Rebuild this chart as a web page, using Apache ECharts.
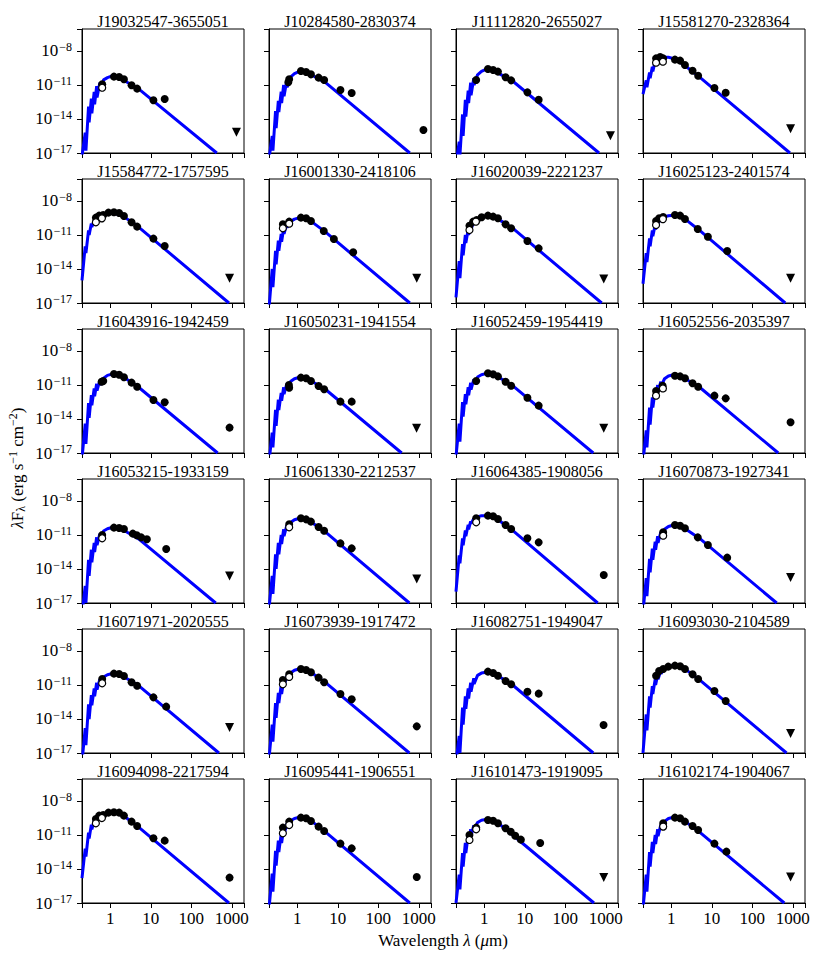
<!DOCTYPE html>
<html>
<head>
<meta charset="utf-8">
<title>SED grid</title>
<script src="https://cdn.jsdelivr.net/npm/echarts@6/dist/echarts.min.js"></script>
<style>
  html, body { margin: 0; padding: 0; background: #fff; }
  #main { width: 830px; height: 962px; }
</style>
</head>
<body>
<div id="main"></div>
<script>
var FONT = '"Liberation Serif", "Times New Roman", Times, serif';

// source names, row by row
var names = [
    'J19032547-3655051', 'J10284580-2830374', 'J11112820-2655027', 'J15581270-2328364',
    'J15584772-1757595', 'J16001330-2418106', 'J16020039-2221237', 'J16025123-2401574',
    'J16043916-1942459', 'J16050231-1941554', 'J16052459-1954419', 'J16052556-2035397',
    'J16053215-1933159', 'J16061330-2212537', 'J16064385-1908056', 'J16070873-1927341',
    'J16071971-2020555', 'J16073939-1917472', 'J16082751-1949047', 'J16093030-2104589',
    'J16094098-2217594', 'J16095441-1906551', 'J16101473-1919095', 'J16102174-1904067'
];

// model photosphere: wavelength grid (um) and log10(lambda F_lambda) per source
var modelWave = [0.20, 0.24, 0.25, 0.29, 0.30, 0.34, 0.35, 0.40, 0.41, 0.46, 0.47, 0.55, 0.56, 0.68, 0.85, 1.2, 2.2, 5.0];
var modelLogFlux = [
    [-17.3, -15.2, -16.8, -12.9, -14.3, -12.2, -13.5, -11.6, -12.7, -11.1, -12.1, -10.8, -11.5, -10.55, -10.35, -10.15, -10.6, -11.35],
    [-17.5, -15.5, -16.8, -13.3, -14.8, -12.4, -13.4, -11.6, -12.6, -11.0, -12.0, -10.6, -11.2, -10.3, -10.0, -9.75, -10.1, -10.8],
    [-18.0, -16.0, -17.2, -13.6, -15.5, -12.3, -13.8, -11.5, -12.6, -10.8, -11.9, -10.4, -11.0, -10.1, -9.8, -9.55, -9.95, -10.65],
    [-11.8, -10.6, -11.2, -9.9, -10.4, -9.4, -9.8, -8.9, -9.2, -8.7, -8.9, -8.55, -8.65, -8.55, -8.55, -8.7, -9.3, -10.3],
    [-15.0, -12.0, -12.6, -10.6, -11.0, -10.0, -10.3, -9.7, -9.9, -9.5, -9.7, -9.35, -9.45, -9.25, -9.1, -9.05, -9.4, -10.3],
    [-17.5, -14.0, -15.6, -12.4, -13.6, -11.5, -12.4, -10.9, -11.6, -10.4, -10.9, -10.0, -10.35, -9.8, -9.6, -9.45, -9.8, -10.75],
    [-16.5, -13.3, -14.8, -11.8, -12.8, -11.0, -11.7, -10.5, -11.0, -10.1, -10.5, -9.8, -10.05, -9.6, -9.4, -9.3, -9.6, -10.4],
    [-15.3, -12.6, -13.4, -11.3, -12.0, -10.6, -11.1, -10.1, -10.5, -9.8, -10.0, -9.55, -9.7, -9.4, -9.3, -9.25, -9.6, -10.6],
    [-17.5, -14.4, -16.2, -12.6, -13.9, -11.9, -12.8, -11.3, -12.0, -10.9, -11.5, -10.6, -11.0, -10.4, -10.15, -10.0, -10.35, -11.2],
    [-17.8, -15.2, -16.5, -13.2, -14.6, -12.3, -13.2, -11.7, -12.4, -11.2, -11.8, -10.9, -11.3, -10.7, -10.45, -10.3, -10.65, -11.4],
    [-17.3, -14.4, -16.0, -12.5, -13.8, -11.8, -12.7, -11.2, -11.9, -10.8, -11.4, -10.5, -10.9, -10.3, -10.1, -9.95, -10.3, -11.05],
    [-17.8, -15.0, -16.5, -13.0, -14.5, -12.1, -13.0, -11.5, -12.2, -11.0, -11.6, -10.7, -11.1, -10.45, -10.2, -10.08, -10.45, -11.2],
    [-18.0, -15.5, -17.0, -13.2, -14.6, -12.3, -13.4, -11.7, -12.5, -11.2, -11.9, -10.9, -11.3, -10.65, -10.45, -10.3, -10.6, -11.35],
    [-17.5, -14.6, -16.2, -12.7, -14.0, -11.7, -12.7, -11.0, -11.8, -10.5, -11.1, -10.15, -10.5, -9.9, -9.65, -9.5, -9.85, -10.75],
    [-16.0, -12.8, -13.5, -11.3, -11.9, -10.6, -11.1, -10.1, -10.5, -9.8, -10.0, -9.55, -9.7, -9.4, -9.3, -9.3, -9.65, -10.6],
    [-17.8, -14.8, -16.4, -13.1, -14.3, -12.2, -13.2, -11.6, -12.3, -11.1, -11.7, -10.75, -11.1, -10.5, -10.25, -10.1, -10.45, -11.3],
    [-17.8, -14.8, -16.3, -12.7, -14.0, -11.9, -12.8, -11.3, -12.0, -10.8, -11.4, -10.5, -10.9, -10.3, -10.1, -9.95, -10.3, -11.05],
    [-17.5, -14.5, -16.0, -12.6, -13.9, -11.7, -12.6, -11.0, -11.8, -10.6, -11.1, -10.2, -10.55, -9.95, -9.7, -9.55, -9.9, -10.8],
    [-17.8, -15.5, -17.0, -13.0, -14.5, -12.0, -13.1, -11.3, -12.2, -10.8, -11.6, -10.4, -10.9, -10.15, -9.95, -9.85, -10.2, -11.0],
    [-17.0, -13.6, -15.0, -12.0, -13.0, -11.1, -11.8, -10.5, -11.0, -10.1, -10.5, -9.75, -10.0, -9.5, -9.35, -9.25, -9.6, -10.55],
    [-14.8, -12.2, -12.9, -10.8, -11.3, -10.1, -10.5, -9.7, -10.0, -9.5, -9.7, -9.3, -9.45, -9.2, -9.05, -9.0, -9.35, -10.3],
    [-17.5, -14.4, -16.0, -12.4, -13.7, -11.5, -12.5, -10.9, -11.7, -10.4, -11.0, -10.0, -10.4, -9.75, -9.55, -9.4, -9.75, -10.75],
    [-17.0, -14.5, -15.8, -12.6, -13.8, -11.7, -12.6, -11.0, -11.7, -10.5, -11.1, -10.15, -10.5, -9.9, -9.7, -9.6, -9.95, -11.0],
    [-17.5, -14.5, -16.0, -12.5, -13.8, -11.6, -12.6, -11.0, -11.8, -10.5, -11.1, -10.1, -10.45, -9.8, -9.55, -9.4, -9.8, -10.75]
];
// wavelength (um) where the model tail drops to 1e-17
var modelEnd = [425, 600, 680, 850, 850, 600, 790, 650, 447, 377, 490, 437,
                400, 585, 630, 400, 480, 585, 490, 700, 850, 600, 510, 617];

// photometry: [wavelength um, log10 flux]
var filledPts = [
    [[0.63, -10.94], [1.23, -10.26], [1.65, -10.29], [2.17, -10.50], [3.35, -11.03], [4.6, -11.32], [11.6, -12.35], [22, -12.24]],
    [[0.6, -10.76], [0.63, -10.5], [1.23, -9.76], [1.65, -9.85], [2.17, -10.06], [3.35, -10.35], [4.6, -10.56], [11.6, -11.44], [22, -11.7]],
    [[0.63, -10.56], [1.23, -9.59], [1.65, -9.68], [2.17, -9.82], [3.35, -10.32], [4.6, -10.59], [11.6, -11.65], [22, -12.3]],
    [[0.42, -8.65], [0.53, -8.53], [0.63, -8.65], [1.23, -8.76], [1.65, -8.85], [2.17, -9.24], [3.35, -9.74], [4.6, -10.18], [11.6, -11.26], [22, -11.68]],
    [[0.44, -9.47], [0.53, -9.29], [0.67, -9.24], [0.9, -9.03], [1.23, -9.0], [1.65, -9.06], [2.17, -9.32], [3.35, -9.88], [4.6, -10.26], [11.6, -11.32], [22, -11.97]],
    [[0.44, -10.06], [0.63, -9.82], [1.23, -9.47], [1.65, -9.53], [2.17, -9.76], [4.5, -10.65], [8.0, -11.35], [24, -12.53]],
    [[0.43, -10.18], [0.53, -9.82], [0.65, -9.68], [0.86, -9.44], [1.23, -9.29], [1.65, -9.38], [2.17, -9.53], [3.35, -10.06], [4.6, -10.41], [11.6, -11.53], [22, -12.18]],
    [[0.42, -9.76], [0.5, -9.53], [0.63, -9.41], [1.23, -9.24], [1.65, -9.29], [2.17, -9.59], [4.5, -10.47], [8.0, -11.15], [24, -12.41]],
    [[0.61, -10.71], [0.67, -10.65], [1.23, -10.03], [1.65, -10.09], [2.17, -10.32], [3.35, -10.79], [4.6, -11.15], [11.6, -12.32], [22, -12.53]],
    [[0.62, -11.0], [0.63, -11.24], [1.23, -10.35], [1.65, -10.41], [2.17, -10.65], [3.35, -11.09], [4.6, -11.38], [11.6, -12.47], [22, -12.47]],
    [[0.63, -10.65], [1.23, -9.97], [1.65, -10.06], [2.17, -10.24], [3.35, -10.71], [4.6, -11.06], [11.6, -12.12], [22, -12.82]],
    [[0.42, -11.53], [0.61, -11.06], [1.23, -10.18], [1.65, -10.24], [2.17, -10.41], [3.35, -10.85], [4.6, -11.15], [11.6, -11.94], [22, -12.18]],
    [[0.63, -11.0], [1.23, -10.35], [1.65, -10.38], [2.17, -10.47], [3.6, -10.88], [4.5, -11.03], [5.8, -11.21], [8.0, -11.38], [24, -12.24]],
    [[0.63, -10.06], [1.23, -9.53], [1.65, -9.62], [2.17, -9.82], [3.35, -10.29], [4.6, -10.62], [11.6, -11.74], [22, -12.18]],
    [[0.63, -9.53], [1.23, -9.29], [1.65, -9.35], [2.17, -9.59], [3.35, -10.12], [4.6, -10.47], [11.6, -11.29], [22, -11.65]],
    [[0.63, -10.76], [1.23, -10.12], [1.65, -10.18], [2.17, -10.41], [4.5, -11.21], [8.0, -11.88], [24, -13.0]],
    [[0.63, -10.47], [1.23, -10.0], [1.65, -10.03], [2.17, -10.21], [3.35, -10.76], [4.6, -11.06], [11.6, -12.09], [24, -12.91]],
    [[0.44, -10.56], [0.63, -10.06], [1.23, -9.59], [1.65, -9.68], [2.17, -9.88], [3.35, -10.35], [4.6, -10.76], [11.6, -11.79], [22, -12.26]],
    [[1.23, -9.82], [1.65, -9.94], [2.17, -10.18], [3.35, -10.65], [4.6, -10.94], [11.6, -11.59], [22, -11.76]],
    [[0.42, -10.18], [0.5, -9.76], [0.63, -9.59], [0.84, -9.38], [1.23, -9.29], [1.65, -9.35], [2.17, -9.59], [3.35, -10.06], [4.6, -10.47], [11.6, -11.53], [22, -12.41]],
    [[0.44, -9.59], [0.53, -9.29], [0.67, -9.24], [0.9, -9.03], [1.23, -9.0], [1.65, -9.03], [2.17, -9.29], [3.35, -9.82], [4.6, -10.21], [11.6, -11.29], [22, -11.5]],
    [[0.44, -10.35], [0.63, -9.82], [1.23, -9.47], [1.65, -9.53], [2.17, -9.76], [3.35, -10.26], [4.6, -10.65], [11.6, -11.76], [22, -12.18]],
    [[0.43, -11.0], [0.63, -10.35], [1.23, -9.68], [1.65, -9.74], [2.17, -9.97], [3.35, -10.41], [4.5, -10.71], [5.8, -11.06], [8.0, -11.41], [24, -11.71]],
    [[0.63, -9.97], [1.23, -9.47], [1.65, -9.53], [2.17, -9.82], [3.35, -10.21], [4.6, -10.56], [11.6, -11.76], [23, -12.47]]
];
var openPts = [
    [[0.63, -11.24]],
    [],
    [],
    [[0.42, -9.03], [0.62, -8.94]],
    [[0.44, -9.88], [0.62, -9.53]],
    [[0.44, -10.41], [0.63, -10.0]],
    [[0.43, -10.56], [0.62, -9.82]],
    [[0.42, -10.12], [0.62, -9.6]],
    [],
    [],
    [],
    [[0.42, -11.94], [0.62, -11.3]],
    [[0.63, -11.29]],
    [[0.63, -10.32]],
    [[0.63, -9.88]],
    [[0.63, -11.06]],
    [[0.63, -10.85]],
    [[0.44, -10.94], [0.63, -10.29]],
    [],
    [],
    [[0.44, -9.97], [0.62, -9.5]],
    [[0.44, -10.85], [0.63, -10.12]],
    [[0.43, -11.44], [0.63, -10.5]],
    [[0.63, -10.26]]
];
// (sub)mm detections and upper limits
var mmDetect = [
    null, [1300, -14.97], null, null,
    null, null, null, null,
    [880, -14.76], null, null, [880, -14.29],
    null, null, [890, -14.53], null,
    null, [890, -14.65], [880, -14.53], null,
    [880, -14.76], [890, -14.71], null, null
];
var mmLimit = [
    [1300, -15.18], null, [1300, -15.47], [880, -14.85],
    [880, -14.82], [890, -14.82], [890, -14.88], [880, -14.82],
    null, [880, -14.82], [890, -14.82], null,
    [880, -14.62], [890, -14.88], null, [880, -14.76],
    [880, -14.74], null, null, [880, -15.29],
    null, null, [890, -14.76], [880, -14.71]
];

var xTickExp = [0, 1, 2, 3];
var yTickExp = [-17, -14, -11, -8];

var COLS = 4, ROWS = 6;
var LEFT0 = 82, TOP0 = 29, DX = 187, DY = 150, PW = 162, PH = 124;

function isExp(v, list) {
    var e = Math.round(v);
    return Math.abs(v - e) < 1e-6 && list.indexOf(e) >= 0 ? e : null;
}
function pairs(list) {
    return list.map(function (p) { return [p[0], Math.pow(10, p[1])]; });
}

function buildOption() {
    var grids = [], xAxes = [], yAxes = [], series = [], graphics = [];

    for (var i = 0; i < names.length; i++) {
        var col = i % COLS, row = Math.floor(i / COLS);
        var gx = LEFT0 + col * DX, gy = TOP0 + row * DY;

        grids.push({
            left: gx, top: gy, width: PW, height: PH,
            show: true, borderColor: '#000', borderWidth: 1,
            backgroundColor: 'rgba(0,0,0,0)', containLabel: false
        });

        xAxes.push({
            type: 'log', gridIndex: i, min: 0.2, max: 2000,
            axisLine: {show: true, onZero: false, lineStyle: {color: '#000', width: 1}},
            axisTick: {show: true, inside: false, length: 5, lineStyle: {color: '#000', width: 1}},
            splitLine: {show: false},
            axisLabel: {
                show: row === ROWS - 1, color: '#000', fontSize: 17, fontFamily: FONT, margin: 7,
                formatter: function (v) {
                    var e = isExp(Math.log10(v), xTickExp);
                    return e === null ? '' : String(Math.pow(10, e));
                }
            }
        });
        yAxes.push({
            type: 'log', gridIndex: i, min: 1e-17, max: 8.7e-7, interval: 3,
            axisLine: {show: true, onZero: false, lineStyle: {color: '#000', width: 1}},
            axisTick: {show: true, inside: false, length: 5, lineStyle: {color: '#000', width: 1}},
            splitLine: {show: false},
            axisLabel: {
                show: col === 0, color: '#000', fontSize: 17, fontFamily: FONT, margin: 10,
                formatter: function (v) {
                    var e = isExp(Math.log10(v), yTickExp);
                    return e === null ? '' : '10{s|\u2212' + (-e) + '}';
                },
                rich: {s: {fontSize: 12, fontFamily: FONT, color: '#000', padding: [0, 0, 8, 1]}}
            }
        });

        var model = pairs(modelWave.map(function (w, k) { return [w, modelLogFlux[i][k]]; }));
        model.push([modelEnd[i], 1e-17]);

        series.push({
            type: 'line', xAxisIndex: i, yAxisIndex: i, data: model,
            symbol: 'none', showSymbol: false, clip: true, silent: true,
            lineStyle: {color: '#0000ff', width: 3}, z: 2
        });
        series.push({
            type: 'scatter', xAxisIndex: i, yAxisIndex: i, data: pairs(filledPts[i]),
            symbol: 'circle', symbolSize: 8, itemStyle: {color: '#000', opacity: 1}, z: 3
        });
        if (openPts[i].length) {
            series.push({
                type: 'scatter', xAxisIndex: i, yAxisIndex: i, data: pairs(openPts[i]),
                symbol: 'circle', symbolSize: 7, z: 4,
                itemStyle: {color: '#fff', borderColor: '#000', borderWidth: 1.2, opacity: 1}
            });
        }
        if (mmDetect[i]) {
            series.push({
                type: 'scatter', xAxisIndex: i, yAxisIndex: i, data: pairs([mmDetect[i]]),
                symbol: 'circle', symbolSize: 8, itemStyle: {color: '#000', opacity: 1}, z: 3
            });
        }
        if (mmLimit[i]) {
            series.push({
                type: 'scatter', xAxisIndex: i, yAxisIndex: i, data: pairs([mmLimit[i]]),
                symbol: 'triangle', symbolRotate: 180, symbolSize: 9,
                itemStyle: {color: '#000', opacity: 1}, z: 3
            });
        }

        graphics.push({
            type: 'text', x: gx + PW / 2, y: gy - 8,
            style: {
                text: names[i], fill: '#000', fontSize: 16, fontFamily: FONT,
                align: 'center', verticalAlign: 'middle'
            }
        });
    }

    // shared axis titles
    graphics.push({
        type: 'text', x: 443, y: 940,
        style: {
            text: 'Wavelength {it|\u03bb} ({it|\u03bc}m)', fill: '#000', fontSize: 17, fontFamily: FONT,
            align: 'center', verticalAlign: 'middle',
            rich: {it: {fontStyle: 'italic', fontSize: 17, fontFamily: FONT, fill: '#000'}}
        }
    });
    graphics.push({
        type: 'text', x: 17, y: 468, rotation: Math.PI / 2,
        style: {
            text: '{it|\u03bb}F{sub|\u03bb} (erg s{sup|\u22121} cm{sup|\u22122})',
            fill: '#000', fontSize: 17, fontFamily: FONT,
            align: 'center', verticalAlign: 'middle',
            rich: {
                it: {fontStyle: 'italic', fontSize: 17, fontFamily: FONT, fill: '#000'},
                sub: {fontSize: 12, fontFamily: FONT, fill: '#000', padding: [7, 0, 0, 0]},
                sup: {fontSize: 12, fontFamily: FONT, fill: '#000', padding: [0, 0, 8, 0]}
            }
        }
    });

    return {
        animation: false,
        backgroundColor: '#fff',
        grid: grids,
        xAxis: xAxes,
        yAxis: yAxes,
        series: series,
        graphic: {elements: graphics}
    };
}

var chart = echarts.init(document.getElementById('main'), null, {renderer: 'svg'});
chart.setOption(buildOption());
</script>
</body>
</html>
